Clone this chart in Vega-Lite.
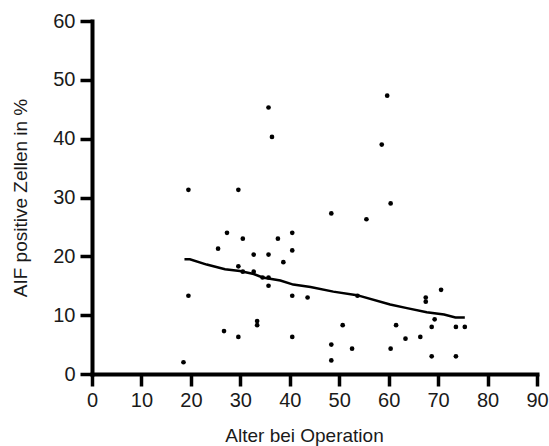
{
  "$schema": "https://vega.github.io/schema/vega-lite/v6.json",
  "width": 445,
  "height": 353,
  "autosize": {"type": "none"},
  "padding": {"left": 92, "top": 21, "right": 12, "bottom": 72},
  "background": "white",
  "datasets": {
    "patients": [
      {"alter": 19.5, "aif": 31.3}, {"alter": 29.6, "aif": 31.3}, {"alter": 27.3, "aif": 24.0},
      {"alter": 30.5, "aif": 23.0}, {"alter": 37.6, "aif": 23.0}, {"alter": 40.5, "aif": 24.0},
      {"alter": 25.5, "aif": 21.3}, {"alter": 32.7, "aif": 20.3}, {"alter": 35.7, "aif": 20.3},
      {"alter": 40.5, "aif": 21.0}, {"alter": 38.7, "aif": 19.0}, {"alter": 29.6, "aif": 18.3},
      {"alter": 30.5, "aif": 17.4}, {"alter": 32.7, "aif": 17.4}, {"alter": 34.5, "aif": 16.4},
      {"alter": 35.7, "aif": 16.4}, {"alter": 35.7, "aif": 15.0}, {"alter": 19.5, "aif": 13.3},
      {"alter": 40.5, "aif": 13.3}, {"alter": 43.6, "aif": 13.0}, {"alter": 33.4, "aif": 9.0},
      {"alter": 33.4, "aif": 8.3}, {"alter": 26.7, "aif": 7.3}, {"alter": 29.6, "aif": 6.3},
      {"alter": 40.5, "aif": 6.3}, {"alter": 18.5, "aif": 2.0}, {"alter": 35.7, "aif": 45.3},
      {"alter": 36.4, "aif": 40.3}, {"alter": 59.7, "aif": 47.3}, {"alter": 58.6, "aif": 39.0},
      {"alter": 48.4, "aif": 27.3}, {"alter": 55.5, "aif": 26.3}, {"alter": 60.4, "aif": 29.0},
      {"alter": 53.7, "aif": 13.3}, {"alter": 67.5, "aif": 13.0}, {"alter": 67.5, "aif": 12.3},
      {"alter": 70.6, "aif": 14.3}, {"alter": 69.3, "aif": 9.3}, {"alter": 50.7, "aif": 8.3},
      {"alter": 61.5, "aif": 8.3}, {"alter": 68.7, "aif": 8.0}, {"alter": 73.6, "aif": 8.0},
      {"alter": 75.4, "aif": 8.0}, {"alter": 63.4, "aif": 6.0}, {"alter": 66.4, "aif": 6.3},
      {"alter": 48.4, "aif": 5.0}, {"alter": 52.6, "aif": 4.3}, {"alter": 60.4, "aif": 4.3},
      {"alter": 48.4, "aif": 2.3}, {"alter": 68.7, "aif": 3.0}, {"alter": 73.6, "aif": 3.0}
    ],
    "trend": [
      {"alter": 18.7, "aif": 19.5}, {"alter": 19.8, "aif": 19.5}, {"alter": 23.2, "aif": 18.6},
      {"alter": 26.9, "aif": 17.8}, {"alter": 29.9, "aif": 17.5}, {"alter": 32.7, "aif": 17.0},
      {"alter": 34.5, "aif": 16.4}, {"alter": 38.1, "aif": 15.9}, {"alter": 40.7, "aif": 15.2},
      {"alter": 44.2, "aif": 14.8}, {"alter": 48.8, "aif": 14.0}, {"alter": 53.6, "aif": 13.4},
      {"alter": 60.3, "aif": 11.8}, {"alter": 63.7, "aif": 11.2}, {"alter": 67.7, "aif": 10.5},
      {"alter": 71.2, "aif": 10.1}, {"alter": 73.5, "aif": 9.6}, {"alter": 75.4, "aif": 9.6}
    ]
  },
  "config": {
    "view": {"stroke": null},
    "font": "Liberation Sans"
  },
  "layer": [
    {
      "data": {"name": "patients"},
      "mark": {"type": "circle", "size": 22, "color": "black", "opacity": 1},
      "encoding": {
        "x": {
          "field": "alter", "type": "quantitative",
          "scale": {"domain": [0, 90], "nice": false, "zero": true},
          "axis": {
            "values": [0, 10, 20, 30, 40, 50, 60, 70, 80, 90],
            "title": "Alter bei Operation",
            "grid": false,
            "domainColor": "black", "domainWidth": 4, "domainCap": "square",
            "tickColor": "black", "tickWidth": 3.5, "tickSize": 12,
            "labelFontSize": 20, "labelColor": "#1a1a1a", "labelPadding": 4,
            "labelFlush": false, "labelOverlap": false,
            "titleFontSize": 19, "titleFontWeight": "normal", "titleColor": "#1a1a1a",
            "titlePadding": 16, "titleX": 212
          }
        },
        "y": {
          "field": "aif", "type": "quantitative",
          "scale": {"domain": [0, 60], "nice": false},
          "axis": {
            "values": [0, 10, 20, 30, 40, 50, 60],
            "title": "AIF positive Zellen in %",
            "grid": false,
            "domainColor": "black", "domainWidth": 4, "domainCap": "square",
            "tickColor": "black", "tickWidth": 3.5, "tickSize": 12,
            "labelFontSize": 20, "labelColor": "#1a1a1a", "labelPadding": 5,
            "labelFlush": false, "labelOverlap": false,
            "titleFontSize": 19, "titleFontWeight": "normal", "titleColor": "#1a1a1a",
            "titlePadding": 22
          }
        }
      }
    },
    {
      "data": {"name": "trend"},
      "mark": {"type": "line", "color": "black", "strokeWidth": 2.5},
      "encoding": {
        "x": {"field": "alter", "type": "quantitative"},
        "y": {"field": "aif", "type": "quantitative"}
      }
    }
  ]
}
